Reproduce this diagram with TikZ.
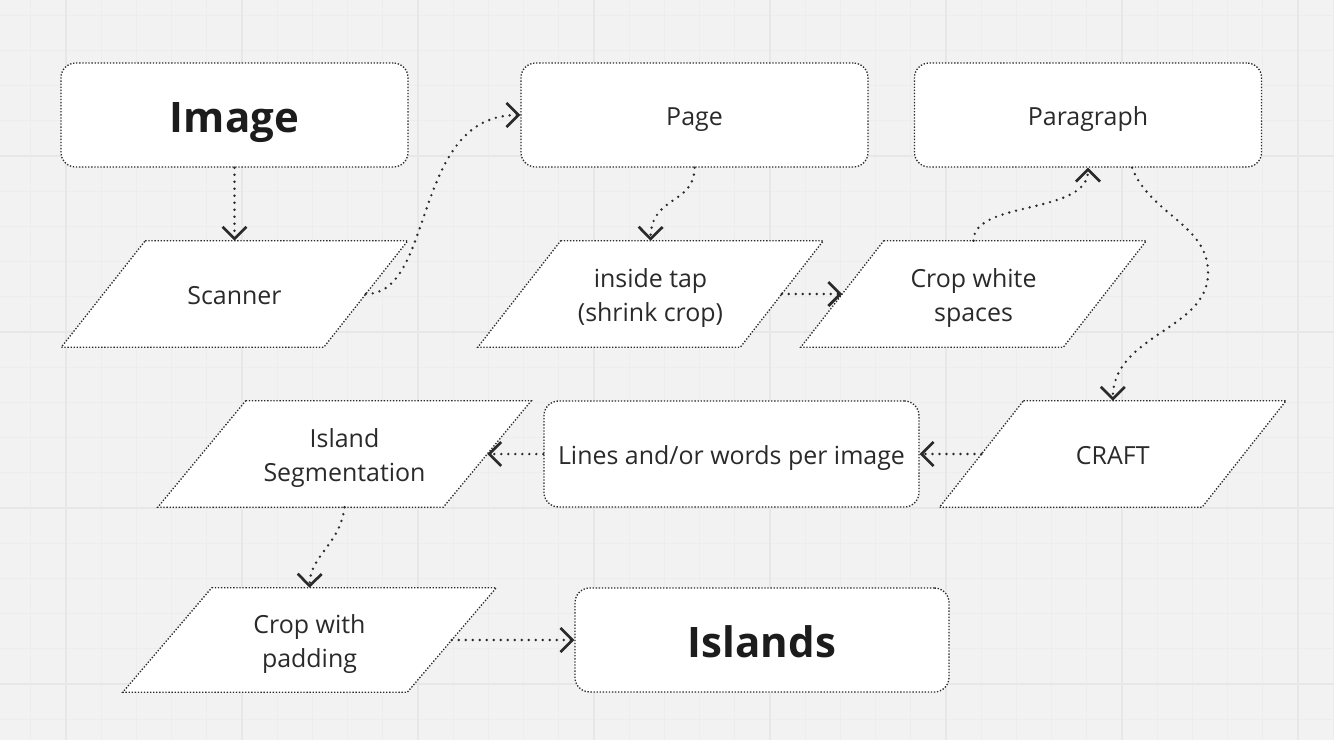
\documentclass[tikz,border=0pt]{standalone}
\usepackage{fontspec}
\setmainfont{Open Sans}
\usetikzlibrary{arrows.meta,calc,backgrounds}
\definecolor{bg}{HTML}{F2F2F2}
\definecolor{gridminor}{HTML}{EDEDED}
\definecolor{gridmajor}{HTML}{E7E7E7}
\definecolor{ink}{HTML}{2A2A2A}
\definecolor{inkbold}{HTML}{1C1C1C}
\newcommand{\drawpara}[2]{%
  \filldraw[fill=white, border] ($(#1.north west)+(#2,0)$) -- ($(#1.north east)+(#2,0)$) -- ($(#1.south east)+(-#2,0)$) -- ($(#1.south west)+(-#2,0)$) -- cycle;}
\begin{document}
\begin{tikzpicture}[x=0.75pt,y=-0.75pt,
  border/.style={draw=ink, line width=1pt, dash pattern=on 1pt off 1.3pt},
  txt/.style={text=ink, font=\fontsize{18.7}{26}\selectfont, align=center, inner sep=0pt, text height=15.5pt, text depth=0pt},
  two/.style={text height=41.5pt, text depth=0pt},
  big/.style={text=inkbold, font=\fontsize{31.5}{38}\selectfont\bfseries, text height=25.5pt, text depth=0pt},
  rbox/.style={txt, border, fill=white, rounded corners=11pt, minimum width=260.25pt, minimum height=78pt},
  pbox/.style={txt, minimum width=196.5pt, minimum height=79.5pt},
  conn/.style={draw=ink, line width=2pt, line cap=round, dash pattern=on 0pt off 5.25pt,
    -{Straight Barb[length=9pt,width=18pt,line width=2pt]}}
]
\useasboundingbox (0,0) rectangle (1334,740);
% background and grid
\begin{scope}[on background layer]
\fill[bg] (0,0) rectangle (1334,740);
\foreach \i in {0,...,38} {\pgfmathsetmacro\xx{-4.4+35.2*\i}\draw[gridminor, line width=0.75pt] (\xx,0) -- (\xx,740);}
\foreach \j in {0,...,22} {\pgfmathsetmacro\yy{-20+35.2*\j}\draw[gridminor, line width=0.75pt] (0,\yy) -- (1334,\yy);}
\foreach \xx in {66,242,418,594,770,946,1122,1298} {\draw[gridmajor, line width=0.9pt] (\xx,0) -- (\xx,740);}
\foreach \yy in {156,332,508,684} {\draw[gridmajor, line width=0.9pt] (0,\yy) -- (1334,\yy);}
\end{scope}

% rounded boxes
\node[rbox, big] (img) at (234.5,115) {Image};
\node[rbox] (page) at (694.5,115) {Page};
\node[rbox] (para) at (1088,115) {Paragraph};
\node[rbox, minimum width=281.25pt, minimum height=79.5pt] (lines) at (731.5,454) {Lines and/or words per image};
\node[rbox, big, minimum width=280.5pt] (isl) at (762,640) {Islands};

% parallelogram texts
\node[pbox] (scan) at (234.5,294) {Scanner};
\node[pbox, two] (tap) at (650.5,294) {inside tap\\(shrink crop)};
\node[pbox, two] (cws) at (973.5,294) {Crop white\\spaces};
\node[pbox] (craft) at (1112.75,454) {CRAFT};
\node[pbox, two, minimum width=213.75pt] (iseg) at (344.5,454) {Island\\Segmentation};
\node[pbox, two, minimum width=213pt, minimum height=78pt] (cwp) at (309.5,640) {Crop with\\padding};

\begin{scope}[on background layer]
\drawpara{scan}{42}
\drawpara{tap}{41.5}
\drawpara{cws}{41.5}
\drawpara{craft}{42}
\drawpara{iseg}{44}
\drawpara{cwp}{44.5}
\end{scope}

% connectors
\coordinate (p6) at ($(para.south)+(44,0)$);
\draw[conn] (img.south) -- (scan.north);
\draw[conn] (scan.east) .. controls (436,294) and (411,115) .. (page.west);
\draw[conn] (page.south) .. controls (694.5,205) and (651,195) .. (tap.north);
\draw[conn] (tap.east) -- (cws.west);
\draw[conn] (cws.north) .. controls (973.5,200) and (1088,215) .. (para.south);
\draw[conn] (p6) .. controls (1150,215) and (1210,225) .. (1208,275) .. controls (1206,330) and (1113,335) .. (craft.north);
\draw[conn] (craft.west) -- (lines.east);
\draw[conn] (lines.west) -- (iseg.east);
\draw[conn] (iseg.south) .. controls (340,545) and (310,555) .. (cwp.north);
\draw[conn] (cwp.east) -- (isl.west);
\end{tikzpicture}
\end{document}
